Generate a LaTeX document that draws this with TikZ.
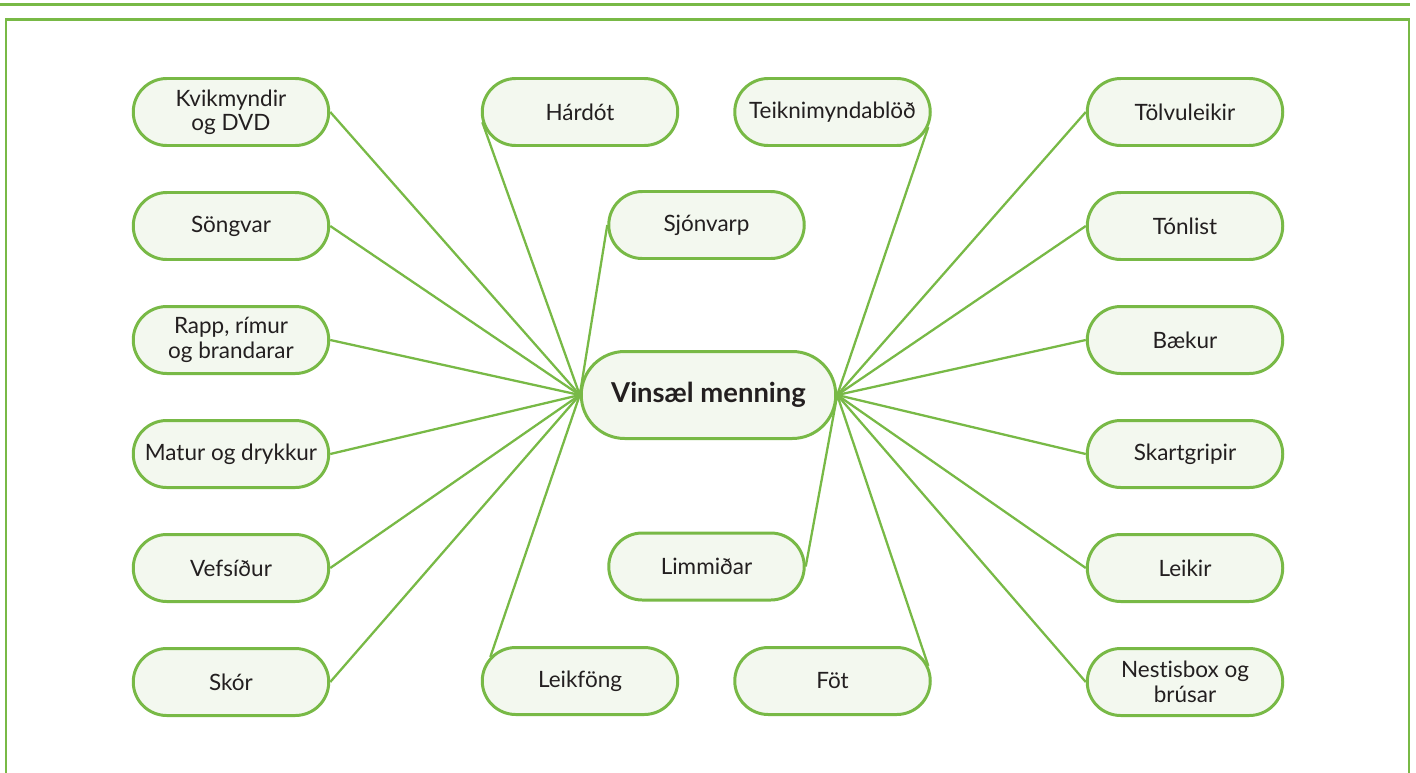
\documentclass[tikz,border=0pt]{standalone}
\usepackage{fontspec}
\setmainfont{Lato}[Ligatures=NoCommon]
\usetikzlibrary{shapes.misc}
\usetikzlibrary{positioning}
\definecolor{leafgreen}{HTML}{78B946}
\definecolor{leaffill}{HTML}{F3F8EF}
\definecolor{inkgray}{HTML}{231F20}

\begin{document}
\begin{tikzpicture}[node distance=2.28cm,
        leaf/.style={rounded rectangle,minimum width=3.98cm,minimum height=1.34cm,inner sep=1pt,line width=1.7pt,draw=leafgreen,fill=leaffill,text=inkgray,align=center,font=\fontsize{12.8}{13.9}\selectfont},
        hub/.style={leaf,minimum width=5.16cm,minimum height=1.74cm,font=\fontsize{15.6}{17}\selectfont\bfseries},
        spoke/.style={draw=leafgreen,line width=1.3pt}]
  \useasboundingbox (0,0) rectangle (28.32,-15.44);
  % frame
  \draw[leafgreen,line width=1.3pt] (0,-0.09) -- (28.2,-0.09);
  \draw[leafgreen,line width=1.4pt] (0.12,-16) -- (0.12,-0.39) -- (28.18,-0.39) -- (28.18,-16);

  \node[hub]  (vm) at (14.17,-7.9) {Vinsæl menning};

  % left column
  \node[leaf] (kvik) at (4.62,-2.24) {Kvikmyndir\\og DVD};
  \node[leaf] (song)  [below of=kvik]  {Söngvar};
  \node[leaf] (rapp)  [below of=song]  {Rapp, rímur\\og brandarar};
  \node[leaf] (matur) [below of=rapp]  {Matur og drykkur};
  \node[leaf] (vef)   [below of=matur] {Vefsíður};
  \node[leaf] (skor)  [below of=vef]   {Skór};

  % right column
  \node[leaf] (tolv) at (23.7,-2.24) {Tölvuleikir};
  \node[leaf] (tonl)  [below of=tolv]  {Tónlist};
  \node[leaf] (baek)  [below of=tonl]  {Bækur};
  \node[leaf] (skart) [below of=baek]  {Skartgripir};
  \node[leaf] (leik)  [below of=skart] {Leikir};
  \node[leaf] (nest)  [below of=leik]  {Nestisbox og\\brúsar};

  % middle
  \node[leaf] (hard)  at (11.6,-2.24)   {Hárdót};
  \node[leaf] (teikn) at (16.65,-2.24)  {Teiknimyndablöð};
  \node[leaf] (sjon)  at (14.13,-4.5)   {Sjónvarp};
  \node[leaf] (limm)  at (14.13,-11.33) {Limmiðar};
  \node[leaf] (leikf) at (11.6,-13.62)  {Leikföng};
  \node[leaf] (fot)   at (16.65,-13.62) {Föt};

  \foreach \n in {kvik,song,rapp,matur,vef,skor}
    \draw[spoke] (\n.east) -- (vm.west);
  \foreach \n in {tolv,tonl,baek,skart,leik,nest}
    \draw[spoke] (\n.west) -- (vm.east);
  \path[spoke]
    (hard.186) -- (vm.west)
    (sjon.west) -- (vm.west)
    (leikf.165) -- (vm.west)
    (teikn.351) -- (vm.east)
    (limm.east) -- (vm.east)
    (fot.9) -- (vm.east);
\end{tikzpicture}
\end{document}
